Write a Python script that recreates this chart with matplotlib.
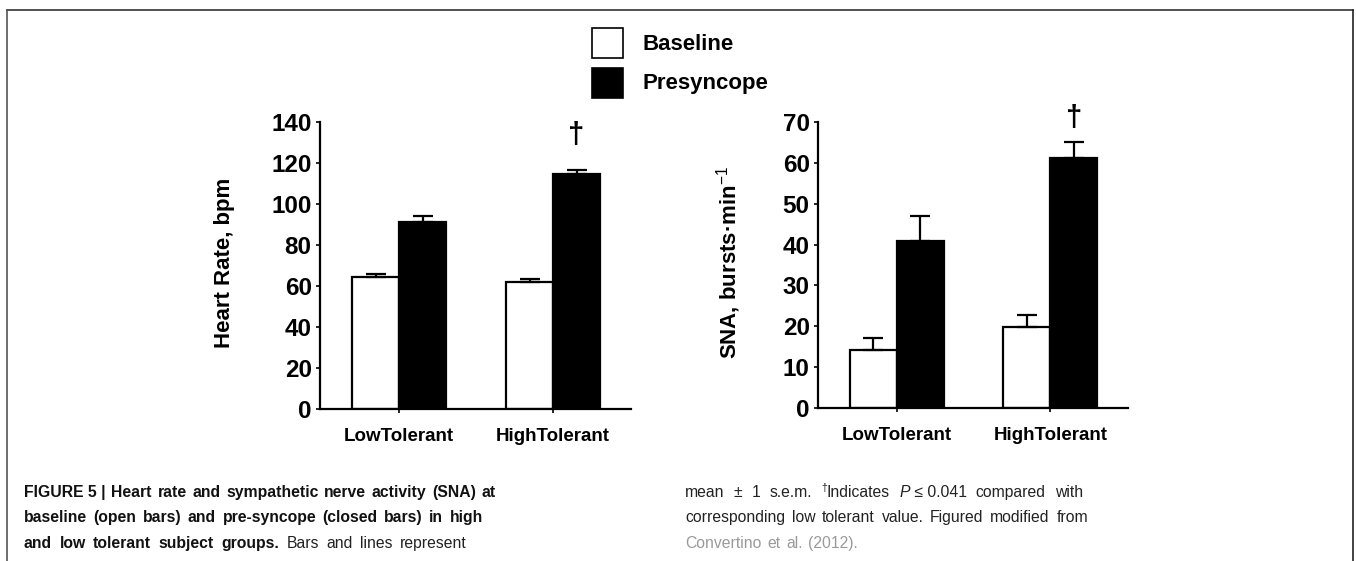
import matplotlib
matplotlib.use("Agg")
import matplotlib.pyplot as plt
from matplotlib.patches import Rectangle
from matplotlib.lines import Line2D

# ---------------------------------------------------------------------------
# Data
# ---------------------------------------------------------------------------
GROUPS = ["LowTolerant", "HighTolerant"]
SERIES = ["Baseline", "Presyncope"]

HR_BASE = [64.2, 62.0]
HR_BASE_ERR = [1.5, 1.6]
HR_PRE = [91.4, 114.6]
HR_PRE_ERR = [2.9, 1.8]

SNA_BASE = [14.2, 19.8]
SNA_BASE_ERR = [3.0, 3.0]
SNA_PRE = [40.9, 61.2]
SNA_PRE_ERR = [6.0, 3.9]

HR_TICKS = [0, 20, 40, 60, 80, 100, 120, 140]
SNA_TICKS = [0, 10, 20, 30, 40, 50, 60, 70]

W, H = 1356, 561
FONT = "Liberation Sans"
CAP_FONT = ["Liberation Sans", "DejaVu Sans"]

plt.rcParams["font.family"] = [FONT, "DejaVu Sans"]
plt.rcParams["mathtext.fontset"] = "custom"
plt.rcParams["mathtext.rm"] = FONT
plt.rcParams["mathtext.it"] = FONT + ":italic"
plt.rcParams["mathtext.bf"] = FONT + ":bold"

fig = plt.figure(figsize=(W / 100, H / 100), dpi=100)


def px_axes(x0, y_top, x1, y_bot):
    return fig.add_axes([x0 / W, 1 - y_bot / H, (x1 - x0) / W, (y_bot - y_top) / H])


BAR_W = 0.305


def bar_panel(ax, base, base_err, pre, pre_err, ticks, ylabel, label_x, dagger_off):
    x = list(range(len(GROUPS)))
    xb = [c - BAR_W for c in x]
    ax.bar(xb, base, width=BAR_W, align="edge", color="white",
           edgecolor="black", linewidth=1.6, zorder=2)
    ax.bar(x, pre, width=BAR_W, align="edge", color="black",
           edgecolor="black", linewidth=1.6, zorder=2)
    ax.errorbar([c + BAR_W / 2 for c in xb], base,
                yerr=[[0] * len(base), base_err], fmt="none", ecolor="black",
                elinewidth=1.6, capsize=7, capthick=1.6, zorder=3)
    ax.errorbar([c + BAR_W / 2 for c in x], pre,
                yerr=[[0] * len(pre), pre_err], fmt="none", ecolor="black",
                elinewidth=1.6, capsize=7, capthick=1.6, zorder=3)
    # dagger over high tolerant presyncope bar
    ax.text(x[1] + BAR_W / 2, pre[1] + pre_err[1] + dagger_off, "\u2020",
            ha="center", va="center", fontsize=21, fontweight="bold",
            clip_on=False)

    ax.set_xlim(-0.513, 1.506)
    ax.set_ylim(ticks[0], ticks[-1])
    ax.set_yticks(ticks)
    ax.set_xticks(x)
    ax.set_xticklabels(GROUPS)
    for s in ["top", "right"]:
        ax.spines[s].set_visible(False)
    for s in ["left", "bottom"]:
        ax.spines[s].set_linewidth(1.6)
    ax.tick_params(axis="y", direction="out", length=3, width=1.2,
                   labelsize=17.5, pad=3)
    ax.tick_params(axis="x", direction="out", length=3, width=1.2,
                   labelsize=13.5, pad=11)
    for lab in ax.get_yticklabels() + ax.get_xticklabels():
        lab.set_fontweight("bold")
    ax.set_ylabel(ylabel, fontsize=16, fontweight="bold")
    ax.yaxis.set_label_coords(label_x, 0.51)


ax1 = px_axes(320, 122, 631, 409)
bar_panel(ax1, HR_BASE, HR_BASE_ERR, HR_PRE, HR_PRE_ERR, HR_TICKS,
          "Heart Rate, bpm", -0.273, 17.5)

ax2 = px_axes(818, 122, 1128, 408)
bar_panel(ax2, SNA_BASE, SNA_BASE_ERR, SNA_PRE, SNA_PRE_ERR, SNA_TICKS,
          "SNA, bursts\u00b7min$^{-1}$", -0.242, 6)

# ---------------------------------------------------------------------------
# Legend (figure level, centred above the panels)
# ---------------------------------------------------------------------------
for i, (name, col) in enumerate(zip(SERIES, ["white", "black"])):
    y_top = 28 + i * 40
    fig.add_artist(Rectangle((592 / W, 1 - (y_top + 30) / H), 31 / W, 30 / H,
                             transform=fig.transFigure, facecolor=col,
                             edgecolor="black", linewidth=1.2))
    fig.text(642 / W, 1 - (y_top + 16) / H, name, ha="left", va="center",
             fontsize=16, fontweight="bold")

# frame of the figure box
fig.add_artist(Line2D([7 / W, 1353 / W], [1 - 10 / H, 1 - 10 / H],
                      transform=fig.transFigure, color="#333333", lw=1.2))
fig.add_artist(Line2D([7 / W, 7 / W], [0, 1 - 10 / H],
                      transform=fig.transFigure, color="#555555", lw=1.2))
fig.add_artist(Line2D([1353 / W, 1353 / W], [0, 1 - 10 / H],
                      transform=fig.transFigure, color="#222222", lw=1.2))

# ---------------------------------------------------------------------------
# Caption, justified two-column text
# ---------------------------------------------------------------------------
CAP_SIZE = 11.3
BOLD = dict(fontweight="bold", color="#111111")
NORM = dict(fontweight="normal", color="#222222")
LINK = dict(fontweight="normal", color="#9a9a9a")


def words(text, style):
    return [[(w, style)] for w in text.split()]


LEFT_LINES = [
    [[("FIGURE 5 |", BOLD)]] + words("Heart rate and sympathetic nerve activity (SNA) at", BOLD),
    words("baseline (open bars) and pre-syncope (closed bars) in high", BOLD),
    words("and low tolerant subject groups.", BOLD) + words("Bars and lines represent", NORM),
]
RIGHT_LINES = [
    words("mean \u00b1 1 s.e.m.", NORM)
    + [[("\u2020", dict(NORM, fontsize=7.5, dy=-6)), ("Indicates", NORM)],
       [("P", dict(NORM, fontstyle="italic")), (" \u2264 0.041", NORM)]]
    + words("compared with", NORM),
    words("corresponding low tolerant value. Figured modified from", NORM),
    words("Convertino et al. (2012).", LINK),
]
LEFT_SPAN = [(24, 496), (24, 483), (24, 467)]
RIGHT_SPAN = [(685, 1083), (685, 1088), (685, 858)]
LINE_Y = [497, 522, 548]

renderer = fig.canvas.get_renderer()


def draw_line(tokens, x0, x1, y):
    placed, total = [], 0.0
    for tok in tokens:
        segs = []
        for s, st in tok:
            st = dict(st)
            dy = st.pop("dy", 0)
            st.setdefault("fontsize", CAP_SIZE)
            t = fig.text(0, 0, s, ha="left", va="baseline", family=CAP_FONT, **st)
            w = t.get_window_extent(renderer).width
            segs.append((t, w, dy))
            total += w
        placed.append(segs)
    gap = (x1 - x0 - total) / max(len(tokens) - 1, 1)
    x = x0
    for segs in placed:
        for t, w, dy in segs:
            t.set_position((x / W, 1 - (y + dy) / H))
            x += w
        x += gap


for line, (a, b), y in zip(LEFT_LINES, LEFT_SPAN, LINE_Y):
    draw_line(line, a, b, y)
for line, (a, b), y in zip(RIGHT_LINES, RIGHT_SPAN, LINE_Y):
    draw_line(line, a, b, y)

fig.savefig("out.png", dpi=100)
